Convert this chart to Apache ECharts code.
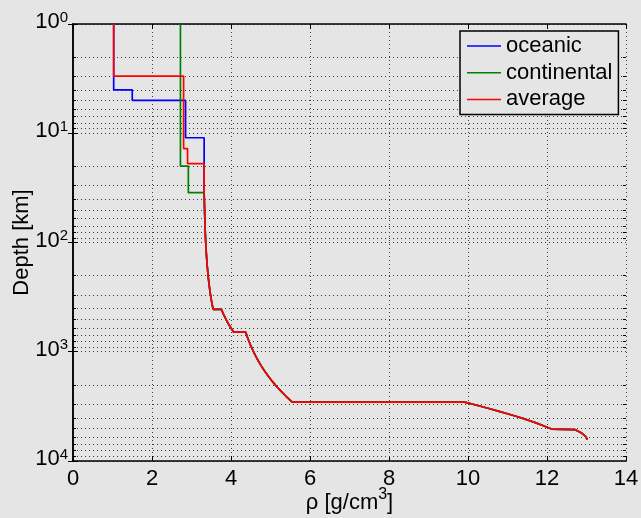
<!DOCTYPE html>
<html>
<head>
<meta charset="utf-8">
<script src="https://cdn.jsdelivr.net/npm/echarts@6/dist/echarts.min.js"></script>
<style>
  html, body { margin: 0; padding: 0; background: #e5e5e5; }
  #chart { width: 641px; height: 518px; }
</style>
</head>
<body>
<div id="chart"></div>
<script>
// Density profiles: rho in g/cm^3 against depth in km.
// Crustal part of each profile.
const oceanicDepth = [1, 4, 4, 5, 5, 11, 11];
const oceanicRho   = [1.03, 1.03, 1.50, 1.50, 2.85, 2.85, 3.32];

const continentalDepth = [1, 20, 20, 35];
const continentalRho   = [2.72, 2.72, 2.92, 2.92];

const averageDepth = [1, 3, 3, 13.8, 13.8, 19, 19];
const averageRho   = [1.03, 1.03, 2.80, 2.80, 2.90, 2.90, 3.32];

// Mantle and core, shared by all three profiles.
const deepDepth = [
  35, 77.5, 120, 165, 210, 260, 310, 360, 410,
  410, 460, 510, 560, 610, 660,
  660, 710, 760, 859, 958, 1057, 1156, 1255, 1354, 1453, 1552, 1651, 1750,
  1849, 1948, 2047, 2146, 2245, 2344, 2443, 2542, 2640, 2740, 2839, 2891.5,
  2891.5, 3090, 3292, 3493, 3694, 3896, 4097, 4299, 4500, 4701, 4902, 5103, 5153.5,
  5153.5, 5306, 5458, 5610, 5762, 5914, 6066, 6218, 6371
];
const deepRho = [
  3.3198, 3.3455, 3.3713, 3.3985, 3.4258, 3.4561, 3.4864, 3.5168, 3.5472,
  3.7557, 3.8175, 3.8793, 3.9410, 4.0028, 4.0646,
  4.3714, 4.4010, 4.4305, 4.4885, 4.5459, 4.6028, 4.6591, 4.7148, 4.7699, 4.8245, 4.8785, 4.9319, 4.9847,
  5.0370, 5.0887, 5.1398, 5.1904, 5.2403, 5.2898, 5.3386, 5.3869, 5.4345, 5.4817, 5.5284, 5.5515,
  9.9145, 10.2233, 10.5062, 10.7647, 11.0001, 11.2137, 11.4069, 11.5809, 11.7373, 11.8772, 12.0001, 12.1133, 12.1391,
  12.7037, 12.7760, 12.8387, 12.8917, 12.9351, 12.9688, 12.9929, 13.0074, 13.0122
];

// Axis ranges and ticks
const rhoMin = 0, rhoMax = 14, rhoStep = 2;
const depthMin = 1, depthMax = 10000;
const minorDepths = [
  2, 3, 4, 5, 6, 7, 8, 9,
  20, 30, 40, 50, 60, 70, 80, 90,
  200, 300, 400, 500, 600, 700, 800, 900,
  2000, 3000, 4000, 5000, 6000, 7000, 8000, 9000
];

const seriesNames = ['oceanic', 'continental', 'average'];
const seriesColors = ['#0000ff', '#008000', '#ff0000'];

function profile(depths, rhos) {
  const d = depths.concat(deepDepth);
  const r = rhos.concat(deepRho);
  return d.map((v, i) => [r[i], v]);
}
const profiles = [
  profile(oceanicDepth, oceanicRho),
  profile(continentalDepth, continentalRho),
  profile(averageDepth, averageRho)
];

const FONT = 'Liberation Sans, Arial, Helvetica, sans-serif';
const GRID_DOT = { color: '#3c3c3c', width: 1, type: [1, 3] };
const FRAME = { show: true, lineStyle: { color: '#000', width: 1.5 } };
const TICK = { show: true, inside: true, length: 5, lineStyle: { color: '#000', width: 1 } };

const chart = echarts.init(document.getElementById('chart'), null, { renderer: 'canvas' });

const option = {
  backgroundColor: '#e5e5e5',
  animation: false,
  grid: { left: 73, right: 15, top: 24, bottom: 57, containLabel: false, outerBoundsMode: 'none' },
  legend: {
    data: seriesNames,
    orient: 'vertical',
    left: 460,
    top: 31,
    padding: [4, 6, 4, 7],
    itemGap: 4.7,
    itemWidth: 34,
    itemHeight: 1.5,
    icon: 'rect',
    borderColor: '#000',
    borderWidth: 1.5,
    backgroundColor: '#e5e5e5',
    textStyle: { fontFamily: FONT, fontSize: 22, lineHeight: 22, color: '#000' }
  },
  xAxis: [
    {
      type: 'value', position: 'bottom',
      min: rhoMin, max: rhoMax, interval: rhoStep,
      axisLine: FRAME, axisTick: TICK,
      axisLabel: { color: '#000', fontFamily: FONT, fontSize: 22, margin: 7 },
      splitLine: { show: true, lineStyle: GRID_DOT },
      name: 'ρ [g/cm{sup|3}]',
      nameLocation: 'middle',
      nameGap: 26,
      nameMoveOverlap: false,
      nameTextStyle: {
        color: '#000', fontFamily: FONT, fontSize: 22,
        rich: { sup: { fontSize: 16, verticalAlign: 'top', padding: [0, 0, 16, 0], color: '#000', fontFamily: FONT } }
      }
    },
    {
      type: 'value', position: 'top',
      min: rhoMin, max: rhoMax, interval: rhoStep,
      axisLine: FRAME, axisTick: TICK,
      axisLabel: { show: false }, splitLine: { show: false }
    }
  ],
  yAxis: [
    {
      type: 'log', position: 'left', logBase: 10,
      min: depthMin, max: depthMax, inverse: true,
      axisLine: FRAME, axisTick: TICK,
      axisLabel: {
        color: '#000', fontFamily: FONT, fontSize: 22, margin: 5,
        padding: [0, 0, 4, 0],
        formatter: v => '{b|10}{sup|' + Math.round(Math.log10(v)) + '}',
        rich: {
          b: { fontSize: 22, fontFamily: FONT, color: '#000' },
          sup: { fontSize: 15, fontFamily: FONT, color: '#000', verticalAlign: 'top', padding: [0, 0, 9, 0] }
        }
      },
      splitLine: { show: true, lineStyle: GRID_DOT },
      name: 'Depth [km]',
      nameLocation: 'middle',
      nameGap: 40,
      nameMoveOverlap: false,
      nameTextStyle: { color: '#000', fontFamily: FONT, fontSize: 22 }
    },
    {
      type: 'log', position: 'right', logBase: 10,
      min: depthMin, max: depthMax, inverse: true,
      axisLine: FRAME, axisTick: TICK,
      axisLabel: { show: false }, splitLine: { show: false }
    }
  ],
  series: [
    {
      // minor grid lines and minor ticks of the logarithmic depth axis
      type: 'custom',
      name: 'minor',
      silent: true,
      z: 1,
      xAxisIndex: 0, yAxisIndex: 0,
      data: minorDepths.map(d => [rhoMin, d]),
      clip: false,
      renderItem: function (params, api) {
        const cs = params.coordSys;
        const y = Math.round(api.coord([rhoMin, api.value(1)])[1]) + 0.5;
        const l = cs.x, r = cs.x + cs.width;
        return {
          type: 'group',
          children: [
            { type: 'line', shape: { x1: l, y1: y, x2: r, y2: y },
              style: { stroke: '#3c3c3c', lineWidth: 1, lineDash: [1, 3] } },
            { type: 'line', shape: { x1: l, y1: y, x2: l + 3, y2: y },
              style: { stroke: '#000', lineWidth: 1 } },
            { type: 'line', shape: { x1: r - 3, y1: y, x2: r, y2: y },
              style: { stroke: '#000', lineWidth: 1 } }
          ]
        };
      }
    }
  ].concat(profiles.map((data, i) => ({
    type: 'line',
    name: seriesNames[i],
    data: data,
    xAxisIndex: 0, yAxisIndex: 0,
    showSymbol: false,
    symbol: 'none',
    z: 3 + i,
    lineStyle: { color: seriesColors[i], width: 1.7 },
    itemStyle: { color: seriesColors[i] },
    clip: true
  })))
};

chart.setOption(option);
</script>
</body>
</html>
